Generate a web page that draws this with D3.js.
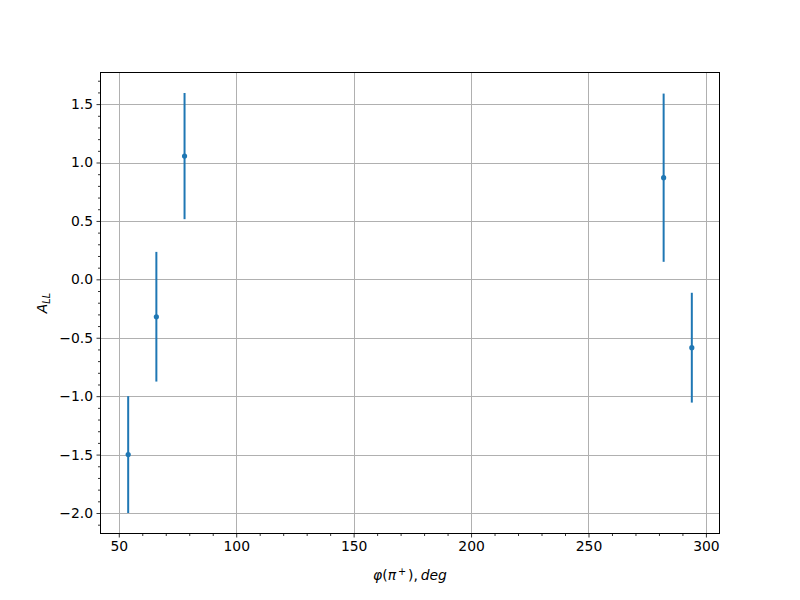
<!DOCTYPE html>
<html><head><meta charset="utf-8">
<script src="https://cdn.jsdelivr.net/npm/d3@7"></script>
<style>body{margin:0;background:#fff}svg{display:block}text{font-family:"DejaVu Sans",sans-serif}</style>
</head><body><svg id="c" width="800" height="600"></svg>
<script>
const phi = [54, 66, 78, 282, 294];
const all = [-1.5, -0.32, 1.055, 0.87, -0.585];
const err = [0.5, 0.555, 0.54, 0.72, 0.47];
const xTicks = [50, 100, 150, 200, 250, 300];
const yTicks = [-2.0, -1.5, -1.0, -0.5, 0.0, 0.5, 1.0, 1.5];

const svg = d3.select("#c");
const L = 100, R = 720, T = 72, B = 534;
const color = "#1f77b4";

const xmin = d3.min(phi), xmax = d3.max(phi), xm = (xmax - xmin) * 0.05;
const ylo = d3.min(all.map((v, i) => v - err[i])), yhi = d3.max(all.map((v, i) => v + err[i])), ym = (yhi - ylo) * 0.05;
const x = d3.scaleLinear().domain([xmin - xm, xmax + xm]).range([L, R]);
const y = d3.scaleLinear().domain([ylo - ym, yhi + ym]).range([B, T]);
const snap = v => Math.round(v) + 0.5;

const fmt = v => (v < 0 ? "\u2212" : "") + Math.abs(v).toFixed(1);

// grid
const g = svg.append("g");
g.selectAll("line.gx").data(xTicks).join("line")
  .attr("x1", d => snap(x(d))).attr("x2", d => snap(x(d))).attr("y1", T).attr("y2", B)
  .attr("stroke", "#b0b0b0").attr("stroke-width", 1);
g.selectAll("line.gy").data(yTicks).join("line")
  .attr("y1", d => snap(y(d))).attr("y2", d => snap(y(d))).attr("x1", L).attr("x2", R)
  .attr("stroke", "#b0b0b0").attr("stroke-width", 1);

// axes
const xMinor = d3.range(40, 311, 10).filter(v => v >= x.domain()[0] && v <= x.domain()[1] && !xTicks.includes(v));
const yMinor = d3.range(-22, 18).map(v => v / 10).filter(v => v >= y.domain()[0] && v <= y.domain()[1] && !yTicks.some(t => Math.abs(t - v) < 1e-9));

const xAxis = svg.append("g").attr("transform", `translate(0,${B})`)
  .call(d3.axisBottom(x).tickValues(xTicks).tickFormat(d3.format("d")).tickSize(3.5).tickPadding(3.5));
const xAxisMinor = svg.append("g").attr("transform", `translate(0,${B})`)
  .call(d3.axisBottom(x).tickValues(xMinor).tickFormat("").tickSize(2));
const yAxis = svg.append("g").attr("transform", `translate(${L},0)`)
  .call(d3.axisLeft(y).tickValues(yTicks).tickFormat(fmt).tickSize(3.5).tickPadding(3.5));
const yAxisMinor = svg.append("g").attr("transform", `translate(${L},0)`)
  .call(d3.axisLeft(y).tickValues(yMinor).tickFormat("").tickSize(2));
[xAxis, xAxisMinor, yAxis, yAxisMinor].forEach(a => {
  a.select(".domain").remove();
  a.selectAll("line").attr("stroke", "#000").attr("stroke-width", 0.8);
  a.selectAll("text").attr("font-size", 13.9).attr("fill", "#000").attr("font-family", "DejaVu Sans");
});

// spines
svg.append("rect").attr("x", L + 0.5).attr("y", T + 0.5).attr("width", R - L - 1).attr("height", B - T - 1)
  .attr("fill", "none").attr("stroke", "#000").attr("stroke-width", 1);

// error bars
const pts = phi.map((p, i) => ({p, v: all[i], e: err[i]}));
svg.selectAll("line.eb").data(pts).join("line")
  .attr("x1", d => x(d.p)).attr("x2", d => x(d.p))
  .attr("y1", d => y(d.v - d.e)).attr("y2", d => y(d.v + d.e))
  .attr("stroke", color).attr("stroke-width", 2);
svg.selectAll("circle.pt").data(pts).join("circle")
  .attr("cx", d => x(d.p)).attr("cy", d => y(d.v)).attr("r", 2.6).attr("fill", color);

// labels
const xl = svg.append("text").attr("x", (L + R) / 2).attr("y", 580).attr("text-anchor", "middle")
  .attr("font-size", 13.9).attr("font-family", "DejaVu Sans");
xl.append("tspan").attr("font-style", "italic").text("\u03c6");
xl.append("tspan").text("(");
xl.append("tspan").attr("font-style", "italic").text("\u03c0");
xl.append("tspan").attr("font-size", 9.7).attr("dy", -5).text("\u2009+\u2009");
xl.append("tspan").attr("dy", 5).text("),\u2009");
xl.append("tspan").attr("font-style", "italic").text("deg");

const yl = svg.append("text").attr("transform", `translate(47,${(T + B) / 2}) rotate(-90)`).attr("text-anchor", "middle")
  .attr("font-size", 13.9).attr("font-family", "DejaVu Sans");
yl.append("tspan").attr("font-style", "italic").text("A");
yl.append("tspan").attr("font-style", "italic").attr("font-size", 9.7).attr("dy", 3).text("LL");
</script></body></html>
